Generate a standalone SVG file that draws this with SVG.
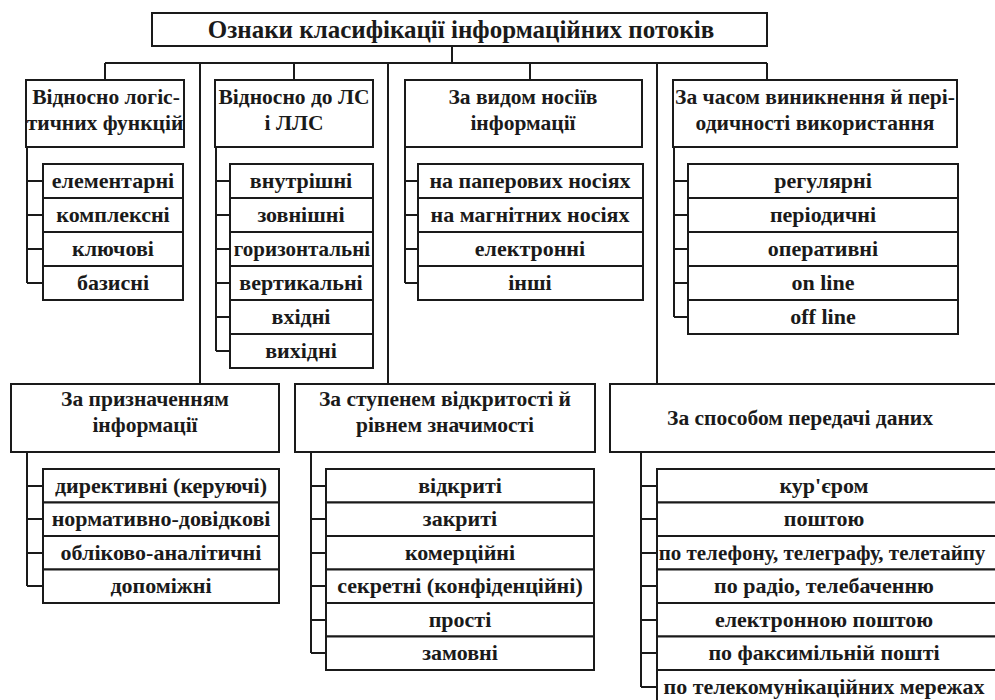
<svg xmlns="http://www.w3.org/2000/svg" width="995" height="700" viewBox="0 0 995 700" font-family="'Liberation Serif', 'Times New Roman', serif">
<style>
.b{fill:#fff;stroke:#1a1a1a;stroke-width:2}
.l{fill:none;stroke:#1a1a1a;stroke-width:2}
text{font-family:'Liberation Serif','Times New Roman',serif;font-weight:bold;fill:#1a1a1a;text-anchor:middle}
.t{font-size:25px}
.h{font-size:21.5px}
.c{font-size:22px}
.s{font-size:21px}
</style>
<rect width="995" height="700" fill="#fff"/>
<g id="connectors">
<path class="l" d="M452 46V63M105 63H767M105 63V80M294 63V80M530 63V80M767 63V80M200 63V384M388 63V384M657 63V384"/>
<path class="l" d="M27 147V283M27 181H43M27 215H43M27 249H43M27 283H43"/>
<path class="l" d="M216 147V351M216 181H230M216 215H230M216 249H230M216 283H230M216 317H230M216 351H230"/>
<path class="l" d="M405 147V283M405 181H418M405 215H418M405 249H418M405 283H418"/>
<path class="l" d="M674 147V317M674 181H688M674 215H688M674 249H688M674 283H688M674 317H688"/>
<path class="l" d="M27 452V586M27 486H43M27 519H43M27 553H43M27 586H43"/>
<path class="l" d="M311 452V653M311 486H326M311 519H326M311 553H326M311 586H326M311 620H326M311 653H326"/>
<path class="l" d="M641 452V687M641 486H657M641 519H657M641 553H657M641 586H657M641 620H657M641 653H657M641 687H657"/>
</g>
<g id="root"><rect class="b" x="152" y="13" width="615" height="33"/><text class="t" x="461" y="38">Ознаки класифікації інформаційних потоків</text></g>
<g id="n1"><rect class="b" x="26" y="80" width="158" height="67"/><text class="h" x="106" y="104">Відносно логіс-</text><text class="h" x="105" y="130">тичних функцій</text></g>
<g id="n2"><rect class="b" x="215" y="80" width="158" height="67"/><text class="h" x="294" y="104">Відносно до ЛС</text><text class="h" x="294" y="130">і ЛЛС</text></g>
<g id="n3"><rect class="b" x="405" y="80" width="237" height="67"/><text class="h" x="523" y="104">За видом носіїв</text><text class="h" x="523" y="130">інформації</text></g>
<g id="n4"><rect class="b" x="673" y="80" width="284" height="67"/><text class="h" x="815" y="104">За часом виникнення й пері-</text><text class="h" x="815" y="130">одичності використання</text></g>
<g id="n1c">
<rect class="b" x="43" y="164" width="140" height="34"/><text class="c" x="113" y="188">елементарні</text>
<rect class="b" x="43" y="198" width="140" height="34"/><text class="c" x="113" y="222">комплексні</text>
<rect class="b" x="43" y="232" width="140" height="34"/><text class="c" x="113" y="256">ключові</text>
<rect class="b" x="43" y="266" width="140" height="34"/><text class="c" x="113" y="290">базисні</text>
</g>
<g id="n2c">
<rect class="b" x="230" y="164" width="143" height="34"/><text class="c" x="301" y="188">внутрішні</text>
<rect class="b" x="230" y="198" width="143" height="34"/><text class="c" x="301" y="222">зовнішні</text>
<rect class="b" x="230" y="232" width="143" height="34"/><text class="s" x="302" y="256">горизонтальні</text>
<rect class="b" x="230" y="266" width="143" height="34"/><text class="c" x="301" y="290">вертикальні</text>
<rect class="b" x="230" y="300" width="143" height="34"/><text class="c" x="301" y="324">вхідні</text>
<rect class="b" x="230" y="334" width="143" height="34"/><text class="c" x="301" y="358">вихідні</text>
</g>
<g id="n3c">
<rect class="b" x="418" y="164" width="225" height="34"/><text class="c" x="530" y="188">на паперових носіях</text>
<rect class="b" x="418" y="198" width="225" height="34"/><text class="c" x="530" y="222">на магнітних носіях</text>
<rect class="b" x="418" y="232" width="225" height="34"/><text class="c" x="530" y="256">електронні</text>
<rect class="b" x="418" y="266" width="225" height="34"/><text class="c" x="530" y="290">інші</text>
</g>
<g id="n4c">
<rect class="b" x="688" y="164" width="270" height="34"/><text class="c" x="823" y="188">регулярні</text>
<rect class="b" x="688" y="198" width="270" height="34"/><text class="c" x="823" y="222">періодичні</text>
<rect class="b" x="688" y="232" width="270" height="34"/><text class="c" x="823" y="256">оперативні</text>
<rect class="b" x="688" y="266" width="270" height="34"/><text class="c" x="823" y="290">on line</text>
<rect class="b" x="688" y="300" width="270" height="34"/><text class="c" x="823" y="324">off line</text>
</g>
<g id="n5"><rect class="b" x="11" y="384" width="268" height="68"/><text class="h" x="145" y="406">За призначенням</text><text class="h" x="145" y="432">інформації</text></g>
<g id="n6"><rect class="b" x="295" y="384" width="300" height="68"/><text class="h" x="445" y="406">За ступенем відкритості й</text><text class="h" x="445" y="432">рівнем значимості</text></g>
<g id="n7"><rect class="b" x="610" y="384" width="395" height="68"/><text class="h" x="800" y="425">За способом передачі даних</text></g>
<g id="n5c">
<rect class="b" x="43" y="469" width="236" height="33.5"/><text class="c" x="161" y="493">директивні (керуючі)</text>
<rect class="b" x="43" y="502.5" width="236" height="33.5"/><text class="c" x="161" y="526">нормативно-довідкові</text>
<rect class="b" x="43" y="536" width="236" height="33.5"/><text class="c" x="161" y="560">обліково-аналітичні</text>
<rect class="b" x="43" y="569.5" width="236" height="33.5"/><text class="c" x="161" y="593">допоміжні</text>
</g>
<g id="n6c">
<rect class="b" x="326" y="469" width="268" height="33.5"/><text class="c" x="460" y="493">відкриті</text>
<rect class="b" x="326" y="502.5" width="268" height="33.5"/><text class="c" x="460" y="526">закриті</text>
<rect class="b" x="326" y="536" width="268" height="33.5"/><text class="c" x="460" y="560">комерційні</text>
<rect class="b" x="326" y="569.5" width="268" height="33.5"/><text class="c" x="460" y="593">секретні (конфіденційні)</text>
<rect class="b" x="326" y="603" width="268" height="33.5"/><text class="c" x="460" y="627">прості</text>
<rect class="b" x="326" y="636.5" width="268" height="33.5"/><text class="c" x="460" y="660">замовні</text>
</g>
<g id="n7c">
<rect class="b" x="657" y="469" width="348" height="33.5"/><text class="c" x="824" y="493">кур'єром</text>
<rect class="b" x="657" y="502.5" width="348" height="33.5"/><text class="c" x="824" y="526">поштою</text>
<rect class="b" x="657" y="536" width="348" height="33.5"/><text class="s" x="822" y="560">по телефону, телеграфу, телетайпу</text>
<rect class="b" x="657" y="569.5" width="348" height="33.5"/><text class="c" x="824" y="593">по радіо, телебаченню</text>
<rect class="b" x="657" y="603" width="348" height="33.5"/><text class="c" x="824" y="627">електронною поштою</text>
<rect class="b" x="657" y="636.5" width="348" height="33.5"/><text class="c" x="824" y="660">по факсимільній пошті</text>
<rect class="b" x="657" y="670" width="348" height="33.5"/><text class="c" x="824" y="694">по телекомунікаційних мережах</text>
</g>
</svg>
